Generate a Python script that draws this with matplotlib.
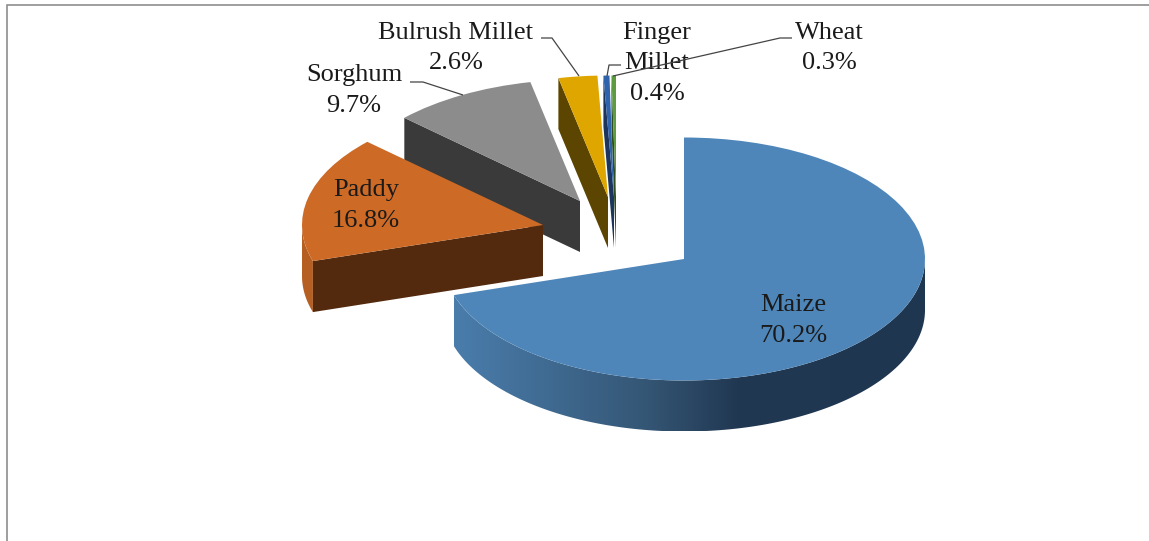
import numpy as np
import matplotlib
matplotlib.use("Agg")
import matplotlib.pyplot as plt
from matplotlib.colors import LinearSegmentedColormap
from matplotlib.patches import Polygon
from matplotlib.transforms import Affine2D

plt.rcParams['font.family'] = ['Liberation Serif', 'DejaVu Serif']

crops = ["Maize", "Paddy", "Sorghum", "Bulrush Millet", "Finger Millet", "Wheat"]
shares = [70.2, 16.8, 9.7, 2.6, 0.4, 0.3]
label_text = ["Maize\n70.2%", "Paddy\n16.8%", "Sorghum\n9.7%",
              "Bulrush Millet\n2.6%", "Finger\nMillet\n0.4%", "Wheat\n0.3%"]

# Styling and layout (pixel-like coordinates of the figure)
top_colors = ["#4e86ba", "#cd6a26", "#8c8c8c", "#e0a600", "#2f64ad", "#5c9b3f"]
cut_colors = ["#203750", "#542a0e", "#3a3a3a", "#5c4500", "#1b355c", "#2d4d1f"]
rim_colors = ["#203750", "#b65f22", "#7a7a7a", "#c49200", "#2f64ad", "#5c9b3f"]
apex = [(684, 259), (543, 225), (580, 201), (608, 197), (614, 197), (616, 197)]
label_pos = [(793, 320.5), (366, 205.5), (354, 90.5), (456, 48), (657, 63), (829, 48)]
leaders = [[(410, 82), (423, 82), (463, 95)],
           [(541, 38), (552, 38), (579, 76)],
           [(621, 65), (609, 65), (607, 76)],
           [(792, 38), (780, 38), (613, 76)]]
RX, RY, DEPTH = 241, 121.5, 51

fig = plt.figure(figsize=(11.49, 5.41), dpi=100, facecolor="white")
ax = fig.add_axes([0, 0, 1, 1])
wedges, _ = ax.pie(shares, startangle=90, counterclock=False, radius=1,
                   colors=top_colors, wedgeprops=dict(linewidth=0))
ax.set_aspect("auto")
ax.set_xlim(0, 1149)
ax.set_ylim(541, 0)
ax.axis("off")


def rim_point(c, ang):
    return c[0] + RX * np.cos(ang), c[1] - RY * np.sin(ang)


maize_cmap = LinearSegmentedColormap.from_list(
    "maize", [(0, "#4a7dac"), (0.4, "#355776"), (0.6, "#213852"), (1, "#1f3650")])

for i in range(len(shares) - 1, -1, -1):
    w = wedges[i]
    c = apex[i]
    t1, t2 = np.deg2rad(w.theta1), np.deg2rad(w.theta2)
    z = 2 + (len(shares) - 1 - i) * 3

    # outer rim: only the part of the arc on the near (lower) half
    k = np.floor(t1 / (2 * np.pi))
    a0 = max(t1, (2 * k + 1) * np.pi)
    a1 = min(t2, (2 * k + 2) * np.pi)
    if a1 > a0:
        ang = np.linspace(a0, a1, 200)
        x, y = rim_point(c, ang)
        pts = np.r_[np.c_[x, y], np.c_[x, y + DEPTH][::-1]]
        if i == 0:
            poly = Polygon(pts, closed=True, transform=ax.transData, fc="none", ec="none")
            ax.add_patch(poly)
            im = ax.imshow(np.linspace(0, 1, 256)[None, :], cmap=maize_cmap, aspect="auto",
                           extent=(x.min(), x.max(), y.max() + DEPTH, y.min()), zorder=z)
            im.set_clip_path(poly)
        else:
            ax.add_patch(Polygon(pts, closed=True, fc=rim_colors[i], ec="none", zorder=z))

    # cut face at the clockwise start of the slice
    if i > 0:
        p = rim_point(c, t2)
        ax.add_patch(Polygon([c, p, (p[0], p[1] + DEPTH), (c[0], c[1] + DEPTH)],
                             closed=True, fc=cut_colors[i], ec="none", zorder=z + 1))

    w.set_transform(Affine2D().scale(RX, -RY).translate(c[0], c[1]) + ax.transData)
    w.set_zorder(z + 2)

ax.set_xlim(0, 1149)
ax.set_ylim(541, 0)

for (x, y), s in zip(label_pos, label_text):
    ax.text(x, y, s, ha="center", va="center", ma="center", fontsize=19,
            color="#1a1a1a", linespacing=1.5, zorder=30)

for seg in leaders:
    xs, ys = zip(*seg)
    ax.plot(xs, ys, color="#444444", lw=0.9, zorder=31, solid_capstyle="butt")

ax.plot([6.5, 6.5, 1149], [541, 4.5, 4.5], color="#8e8e8e", lw=1.2, zorder=1,
        solid_joinstyle="miter")

fig.savefig("out.png", dpi=100, facecolor="white")
